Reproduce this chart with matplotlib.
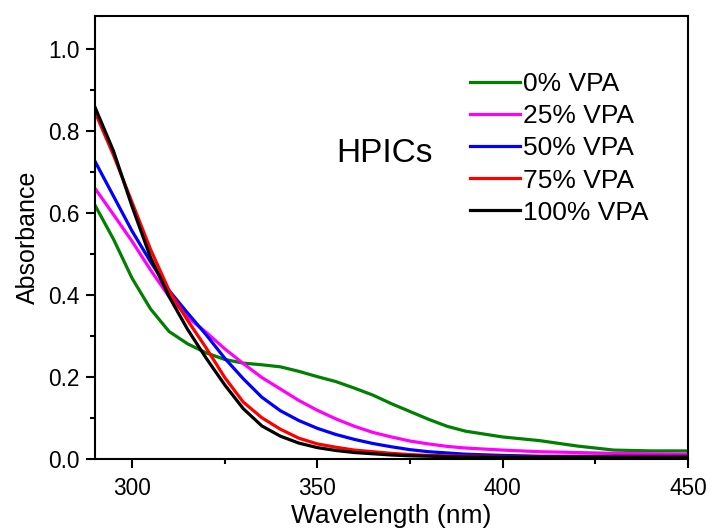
import matplotlib
matplotlib.use("Agg")
import matplotlib.pyplot as plt
from matplotlib.ticker import MultipleLocator

plt.rcParams['font.family'] = ['Liberation Sans', 'DejaVu Sans']

wavelength = [290, 295, 300, 305, 310, 315, 320, 325, 330, 335, 340, 345, 350,
              355, 360, 365, 370, 375, 380, 385, 390, 400, 410, 420, 430, 440, 450]

vpa0 = [0.618, 0.535, 0.440, 0.365, 0.310, 0.280, 0.258, 0.242, 0.233, 0.229, 0.224,
        0.213, 0.200, 0.188, 0.172, 0.155, 0.134, 0.115, 0.096, 0.079, 0.067, 0.053,
        0.044, 0.031, 0.021, 0.019, 0.019]
vpa25 = [0.659, 0.595, 0.530, 0.460, 0.395, 0.345, 0.308, 0.268, 0.232, 0.198, 0.170,
         0.142, 0.118, 0.097, 0.079, 0.064, 0.053, 0.043, 0.036, 0.030, 0.026, 0.021,
         0.017, 0.015, 0.013, 0.012, 0.011]
vpa50 = [0.725, 0.640, 0.555, 0.480, 0.410, 0.355, 0.302, 0.245, 0.195, 0.150, 0.117,
         0.093, 0.074, 0.059, 0.047, 0.037, 0.029, 0.022, 0.017, 0.014, 0.011, 0.008,
         0.006, 0.006, 0.006, 0.006, 0.006]
vpa75 = [0.845, 0.740, 0.625, 0.510, 0.410, 0.337, 0.270, 0.198, 0.138, 0.100, 0.072,
         0.050, 0.036, 0.028, 0.021, 0.017, 0.013, 0.010, 0.008, 0.007, 0.006, 0.005,
         0.005, 0.005, 0.005, 0.005, 0.005]
vpa100 = [0.857, 0.750, 0.615, 0.490, 0.395, 0.315, 0.245, 0.180, 0.122, 0.080, 0.055,
          0.038, 0.027, 0.020, 0.015, 0.012, 0.009, 0.007, 0.006, 0.005, 0.004, 0.004,
          0.004, 0.004, 0.004, 0.004, 0.004]

series = [vpa0, vpa25, vpa50, vpa75, vpa100]
labels = ['0% VPA', '25% VPA', '50% VPA', '75% VPA', '100% VPA']
colors = ['#008000', '#ff00ff', '#0000ff', '#ff0000', '#000000']

fig = plt.figure(figsize=(7.11, 5.29), dpi=100)
ax = fig.add_axes([0.1336, 0.1329, 0.8341, 0.8374])

for ys, lab, c in zip(series, labels, colors):
    ax.plot(wavelength, ys, color=c, lw=2.3, label=lab)

ax.set_xlim(290, 450)
ax.set_ylim(0, 1.08)
ax.xaxis.set_major_locator(MultipleLocator(50))
ax.xaxis.set_minor_locator(MultipleLocator(25))
ax.yaxis.set_major_locator(MultipleLocator(0.2))
ax.yaxis.set_minor_locator(MultipleLocator(0.1))
ax.yaxis.set_major_formatter(plt.FormatStrFormatter('%.1f'))

for s in ax.spines.values():
    s.set_linewidth(1.5)
ax.tick_params(which='major', direction='out', length=6.5, width=1.5, labelsize=16.3, colors='black')
ax.tick_params(which='minor', direction='out', length=3.6, width=1.5)
ax.tick_params(axis='x', pad=6.5)
ax.tick_params(axis='y', pad=4.3)

ax.set_xlabel('Wavelength (nm)', fontsize=19, labelpad=3)
ax.set_ylabel('Absorbance', fontsize=18, labelpad=6)

ax.text(355, 0.745, 'HPICs', fontsize=24, va='center', ha='left')

ax.legend(loc='upper left', bbox_to_anchor=(0.632, 0.873), frameon=False, fontsize=19,
          handlelength=1.9, handletextpad=0.11, labelspacing=0.31, borderpad=0,
          borderaxespad=0)

fig.savefig('out.png', dpi=100)
